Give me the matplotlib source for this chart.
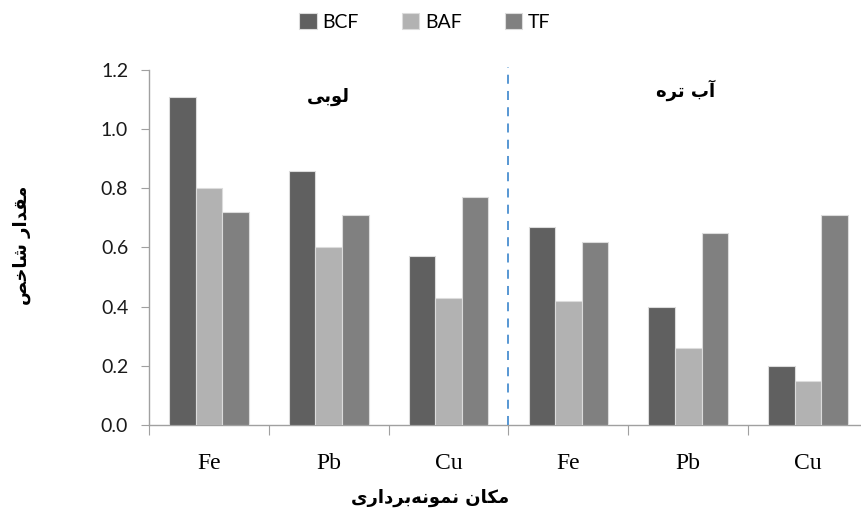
import numpy as np
import matplotlib
matplotlib.use("Agg")
import matplotlib.pyplot as plt

# --- data ---
elements = ["Fe", "Pb", "Cu", "Fe", "Pb", "Cu"]
series = ["BCF", "BAF", "TF"]
bcf = [1.11, 0.86, 0.57, 0.67, 0.40, 0.20]
baf = [0.80, 0.60, 0.43, 0.42, 0.26, 0.15]
tf = [0.72, 0.71, 0.77, 0.62, 0.65, 0.71]
yticks = [0.0, 0.2, 0.4, 0.6, 0.8, 1.0, 1.2]


def farsi(logical):
    # presentation forms given in logical order -> visual (LTR) order
    return logical[::-1]


# لوبی
txt_bean = farsi("\uFEDF\uFEEE\uFE91\uFEF0")
# آب تره
txt_cress = farsi("\uFE81\uFE8F \uFE97\uFEAE\uFEE9")
# مقدار شاخص
txt_ylabel = farsi("\uFEE3\uFED8\uFEAA\uFE8D\uFEAD \uFEB7\uFE8E\uFEA7\uFEBA")
# مکان نمونه‌برداری
txt_xlabel = farsi("\uFEE3\uFEDC\uFE8E\uFEE5 \uFEE7\uFEE4\uFEEE\uFEE7\uFEEA"
                   "\uFE91\uFEAE\uFEA9\uFE8D\uFEAD\uFEEF")

colors = ["#606060", "#b2b2b2", "#808080"]

fig = plt.figure(figsize=(8.61, 5.16), dpi=100)
ax = fig.add_axes([149 / 861, 91 / 516, (868 - 149) / 861, 355 / 516])

x = np.arange(len(elements))
w = 0.222
for i, (vals, name) in enumerate(zip([bcf, baf, tf], series)):
    ax.bar(x + (i - 1) * w, vals, width=w, color=colors[i], edgecolor="#dcdcdc",
           linewidth=0.8, label=name, zorder=3)

ax.set_xlim(-0.5, len(elements) - 0.5)
ax.set_ylim(0, 1.2)

# divider between the two plants
ax.plot([2.5, 2.5], [0, 1.21], color="#4a8fd0", linestyle=(0, (5, 4)),
        linewidth=1.3, clip_on=False, zorder=4)

ax.spines["top"].set_visible(False)
ax.spines["right"].set_visible(False)
for s in ["left", "bottom"]:
    ax.spines[s].set_color("#a0a0a0")
    ax.spines[s].set_linewidth(1.0)

ax.set_yticks(yticks)
ax.set_yticklabels([f"{v:.1f}" for v in yticks], fontsize=14,
                   family="Lato", color="#1a1a1a")
ax.tick_params(axis="y", direction="out", length=6, color="#a0a0a0", pad=9)

ax.set_xticks(np.arange(-0.5, len(elements), 1.0))
ax.set_xticklabels([])
ax.set_xticks(x, minor=True)
ax.set_xticklabels(elements, minor=True, fontsize=17, family="Liberation Serif")
ax.tick_params(axis="x", which="major", direction="out", length=7, color="#a0a0a0")
ax.tick_params(axis="x", which="minor", length=0, pad=20)

ax.text(1.0, 1.11, txt_bean, ha="center", va="center", fontsize=13,
        fontweight="bold", family="DejaVu Sans")
ax.text(3.98, 1.13, txt_cress, ha="center", va="center", fontsize=13,
        fontweight="bold", family="DejaVu Sans")

fig.text(22 / 861, 1 - 245 / 516, txt_ylabel, rotation=90, ha="center",
         va="center", fontsize=13, fontweight="bold", family="DejaVu Sans")
fig.text(430 / 861, 1 - 498 / 516, txt_xlabel, ha="center", va="center",
         fontsize=13, fontweight="bold", family="DejaVu Sans")

leg = fig.legend(loc="center", bbox_to_anchor=(425 / 861, 1 - 22 / 516), ncol=3,
                 frameon=False, handlelength=0.9, handleheight=0.9,
                 handletextpad=0.3, columnspacing=2.2,
                 prop={"family": "Lato", "size": 14})

fig.savefig("out.png", dpi=100)
